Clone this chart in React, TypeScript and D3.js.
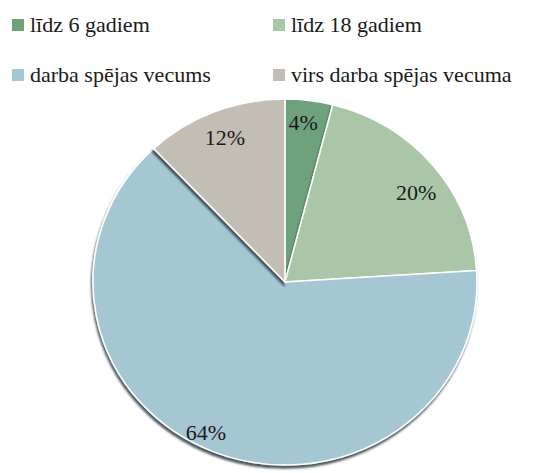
import React from "react";
import * as d3 from "d3";

const categories = ["līdz 6 gadiem", "līdz 18 gadiem", "darba spējas vecums", "virs darba spējas vecuma"];
const values = [4, 20, 64, 12];
const labels = ["4%", "20%", "64%", "12%"];
const colors = ["#6ea27c", "#a9c6a6", "#a5c7d3", "#c2beb3"];
const labelRadius = [0.88, 0.84, 0.92, 0.85];
const labelAngleShift = [-1, 4, 5, 0];

const W = 534;
const H = 473;
const cx = 285;
const cy = 282;
const rx = 192;
const ry = 183;
const FONT = "Liberation Serif";

export default function App() {
  const pie = d3.pie<number>().sort(null).value((d) => d)(values);
  const arc = d3.arc<d3.PieArcDatum<number>>().innerRadius(0).outerRadius(ry);
  const sx = rx / ry;
  return (
    <svg width={W} height={H} style={{ display: "block", position: "absolute", left: 0, top: 0, fontFamily: FONT }} fontFamily={FONT}>
      <defs>
        <filter id="sh" x="-20%" y="-20%" width="140%" height="140%">
          <feDropShadow dx="-1" dy="3" stdDeviation="1.2" floodColor="#2a3a40" floodOpacity="0.85" />
        </filter>
      </defs>
      <rect width={W} height={H} fill="#fff" />
      {categories.map((c, i) => {
        const col = i % 2;
        const row = Math.floor(i / 2);
        const x = col === 0 ? 12 : 273;
        const y = row === 0 ? 25 : 75;
        return (
          <g key={c}>
            <rect x={x} y={y - 6} width={12} height={12} fill={colors[i]} />
            <text x={x + 18} y={y + 7} fontSize={22} fill="#1a1a1a" fontFamily={FONT}>
              {c}
            </text>
          </g>
        );
      })}
      <g transform={`translate(${cx},${cy}) scale(${sx},1)`}>
        {pie.map((p, i) => (
          <path key={i} d={arc(p) || ""} fill={colors[i]} stroke="#fff" strokeWidth={1.5} filter="url(#sh)" />
        ))}
      </g>
      {pie.map((p, i) => {
        const a = (p.startAngle + p.endAngle) / 2 + (labelAngleShift[i] * Math.PI) / 180;
        const x = cx + Math.sin(a) * rx * labelRadius[i];
        const y = cy - Math.cos(a) * ry * labelRadius[i];
        return (
          <text key={i} x={x} y={y} dy="0.35em" textAnchor="middle" fontSize={22} fill="#1a1a1a" fontFamily={FONT}>
            {labels[i]}
          </text>
        );
      })}
    </svg>
  );
}
